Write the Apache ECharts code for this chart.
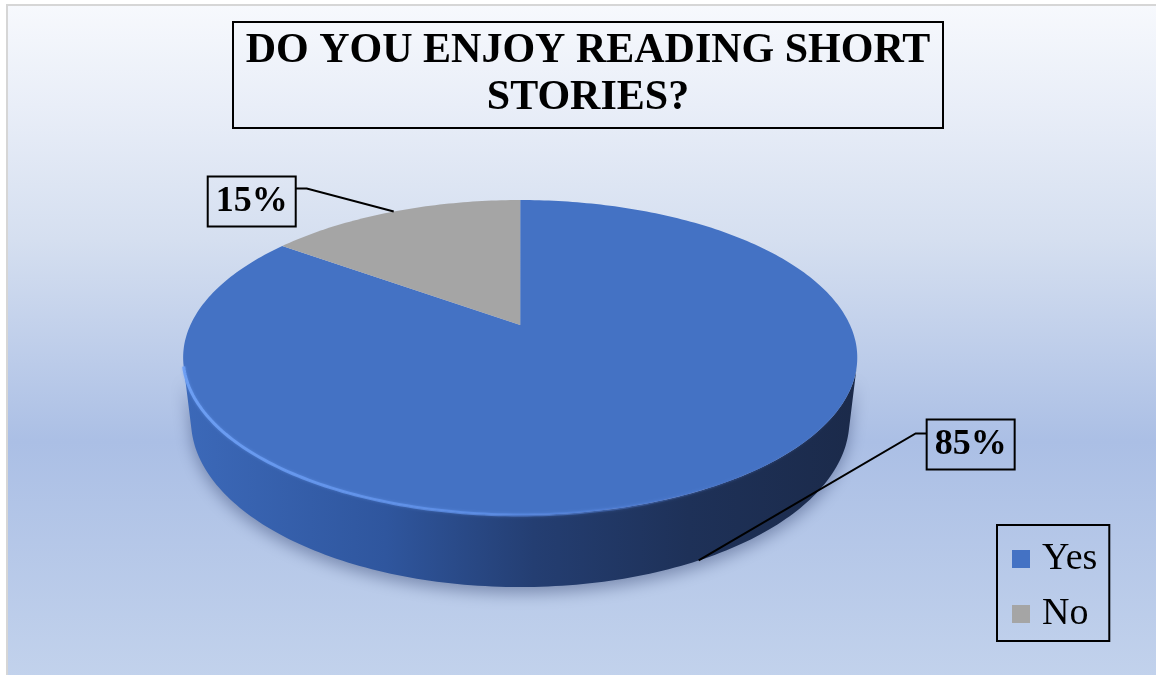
<!DOCTYPE html>
<html>
<head>
<meta charset="utf-8">
<script src="https://cdn.jsdelivr.net/npm/echarts@6/dist/echarts.min.js"></script>
<style>
  html, body { margin: 0; padding: 0; background: #ffffff; }
  #chart { width: 1156px; height: 675px; }
</style>
</head>
<body>
<div id="chart"></div>
<script>
// ---- data ----
const categories = ['Yes', 'No'];
const values = [85, 15];
const sliceColors = ['#4472c4', '#a5a5a5'];
const titleText = 'DO YOU ENJOY READING SHORT\nSTORIES?';

// ---- view of the disc (units normalised to camera distance) ----
const disc = {
  cxRatio: 0.45, cyRatio: 0.4815,
  radius: 0.232, focal: 1421.6, tilt: 27.2, thickness: 0.05
};
// callout leaders: offset from slice anchor to elbow, short horizontal tail, box offset
const callouts = [
  { elbow: [217, -127], tail: 11, boxDy: -14 },
  { elbow: [-87, -23], tail: -11, boxDy: -12 }
];
const serif = '"Liberation Serif", "Times New Roman", serif';

const total = values.reduce((a, b) => a + b, 0);
const starts = values.map((v, i) => values.slice(0, i).reduce((a, b) => a + b, 0));

function projector(api) {
  const cx = api.getWidth() * disc.cxRatio;
  const cy = api.getHeight() * disc.cyRatio;
  const s = Math.sin(disc.tilt * Math.PI / 180);
  const c = Math.cos(disc.tilt * Math.PI / 180);
  return function (theta, yW, r) {
    r = r === undefined ? disc.radius : r;
    const X = r * Math.sin(theta), Z = r * Math.cos(theta);
    const depth = 1 + Z * c - yW * s;
    const vert = Z * s + yW * c;
    return [cx + disc.focal * X / depth, cy - disc.focal * vert / depth];
  };
}

function renderSlice(params, api) {
  const idx = params.seriesIndex;
  const start = api.value(0), val = api.value(1);
  const a0 = start / total * 2 * Math.PI;
  const a1 = (start + val) / total * 2 * Math.PI;
  const P = projector(api);
  const H = -disc.thickness;
  const step = Math.PI / 180;
  function arc(from, to, yW) {
    const pts = [];
    const n = Math.max(2, Math.ceil((to - from) / step));
    for (let i = 0; i <= n; i++) pts.push(P(from + (to - from) * i / n, yW));
    return pts;
  }
  const children = [];
  const leftX = P(-Math.PI / 2 - 0.2, 0)[0], rightX = P(Math.PI / 2 + 0.2, 0)[0];

  // the outer wall faces the camera where cos(theta) < -radius / cos(tilt)
  const vis = Math.acos(-disc.radius / Math.cos(disc.tilt * Math.PI / 180));
  const w0 = Math.max(a0, vis), w1 = Math.min(a1, 2 * Math.PI - vis);
  if (w1 > w0) {
    const upper = arc(w0, w1, 0);
    const lower = arc(w0, w1, H).reverse();
    const wallFill = new echarts.graphic.LinearGradient(leftX, 0, rightX, 0, [
      { offset: 0, color: '#3c69b9' },
      { offset: 0.3, color: '#2f569e' },
      { offset: 0.52, color: '#243e72' },
      { offset: 0.75, color: '#1e3158' },
      { offset: 1, color: '#1b2a4a' }
    ], true);
    children.push({
      type: 'polygon', z2: 1,
      shape: { points: upper.concat(lower) },
      style: { fill: wallFill, shadowBlur: 16, shadowColor: 'rgba(30,45,90,0.4)', shadowOffsetY: 6 }
    });
    const rimStroke = new echarts.graphic.LinearGradient(leftX, 0, rightX, 0, [
      { offset: 0, color: 'rgba(110,160,245,0.95)' },
      { offset: 0.45, color: 'rgba(95,145,235,0.7)' },
      { offset: 0.8, color: 'rgba(70,110,200,0.15)' },
      { offset: 1, color: 'rgba(70,110,200,0.0)' }
    ], true);
    children.push({
      type: 'polyline', z2: 3,
      shape: { points: upper },
      style: { stroke: rimStroke, lineWidth: 3, fill: null, shadowBlur: 3, shadowColor: 'rgba(110,160,245,0.5)' }
    });
  }

  // top face
  children.push({
    type: 'polygon', z2: 2,
    shape: { points: [P(0, 0, 0)].concat(arc(a0, a1, 0)) },
    style: { fill: sliceColors[idx] }
  });

  // callout
  const mid = (a0 + a1) / 2;
  const anchor = Math.cos(mid) < 0 ? P(mid, H) : P(mid, 0);
  const co = callouts[idx];
  const elbow = [anchor[0] + co.elbow[0], anchor[1] + co.elbow[1]];
  const tailEnd = [elbow[0] + co.tail, elbow[1]];
  children.push({
    type: 'polyline', z2: 5,
    shape: { points: [anchor, elbow, tailEnd] },
    style: { stroke: '#000', lineWidth: 2, fill: null }
  });
  children.push({
    type: 'text', z2: 6,
    style: {
      text: Math.round(val / total * 100) + '%',
      x: tailEnd[0], y: elbow[1] + co.boxDy,
      align: co.tail > 0 ? 'left' : 'right', verticalAlign: 'top',
      font: 'bold 36px ' + serif, fill: '#000',
      borderColor: '#000', borderWidth: 2, padding: [7, 8, 6, 8], lineHeight: 37
    }
  });
  return { type: 'group', children: children };
}

const chart = echarts.init(document.getElementById('chart'), null, { renderer: 'canvas' });
chart.setOption({
  animation: false,
  backgroundColor: '#ffffff',
  graphic: [{
    type: 'rect', z: -10, silent: true,
    shape: { x: 7, y: 5, width: 1150, height: 671 },
    style: {
      fill: {
        type: 'linear', x: 0, y: 0, x2: 0, y2: 1,
        colorStops: [
          { offset: 0, color: '#f7f9fd' },
          { offset: 0.15, color: '#e9eef8' },
          { offset: 0.35, color: '#d5dff0' },
          { offset: 0.65, color: '#abbfe5' },
          { offset: 1, color: '#c2d2ec' }
        ]
      },
      stroke: '#d6d6d6', lineWidth: 2
    }
  }],
  title: {
    text: titleText,
    left: 575, top: 22, textAlign: 'center',
    padding: [6, 13, 6, 13],
    borderColor: '#000', borderWidth: 2,
    textStyle: { fontFamily: serif, fontWeight: 'bold', fontSize: 42, lineHeight: 47, color: '#000' }
  },
  legend: {
    data: categories,
    orient: 'vertical',
    left: 997, top: 525,
    padding: [15, 12, 8, 15],
    itemGap: 17,
    itemWidth: 18, itemHeight: 18,
    icon: 'rect',
    borderColor: '#000', borderWidth: 2,
    textStyle: { fontFamily: serif, fontSize: 38, color: '#000', padding: [0, 0, 0, 7] }
  },
  series: categories.map((name, i) => ({
    type: 'custom',
    name: name,
    coordinateSystem: 'none',
    silent: true,
    itemStyle: { color: sliceColors[i] },
    renderItem: renderSlice,
    data: [[starts[i], values[i]]]
  }))
});
</script>
</body>
</html>
